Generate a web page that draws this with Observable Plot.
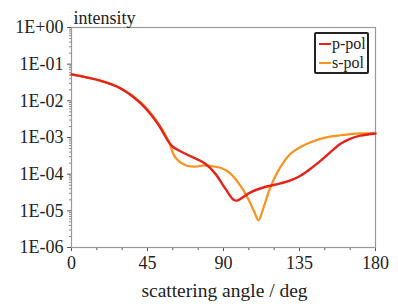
<!DOCTYPE html>
<html>
<head>
<meta charset="utf-8">
<script src="https://cdn.jsdelivr.net/npm/d3@7"></script>
<script src="https://cdn.jsdelivr.net/npm/@observablehq/plot@0.6"></script>
<style>
  body { margin: 0; background: #fff; }
  #wrap { position: relative; width: 398px; height: 308px; font-family: "Liberation Serif", "DejaVu Serif", serif; }
  #legend { position: absolute; left: 314px; top: 32px; width: 51px; height: 38px; border: 2px solid #222; border-radius: 2px; background: #fff; font-size: 16px; color: #222; }
  #legend .row { display: flex; align-items: center; height: 19px; padding-left: 3px; }
  #legend .sw { width: 12px; height: 2px; margin-right: 1px; }
</style>
</head>
<body>
<div id="wrap"></div>
<script>
const pAngle = [0, 17, 29, 41, 51, 57, 60, 67.5, 79, 85, 91, 96, 98, 106, 114, 123.7, 129.7, 135.6, 141.5, 147.4, 153.3, 159.3, 165, 171, 180];
const pValue = [0.0525, 0.0355, 0.0219, 0.0085, 0.0024, 8.3e-4, 5.6e-4, 3.6e-4, 1.95e-4, 1.05e-4, 4.1e-5, 2.0e-5, 1.9e-5, 3.2e-5, 4.4e-5, 5.6e-5, 6.8e-5, 9.1e-5, 1.4e-4, 2.3e-4, 4.0e-4, 6.8e-4, 9.2e-4, 1.12e-3, 1.29e-3];
const sAngle = [0, 17, 29, 41, 51, 57, 61.6, 67.5, 73, 79, 85, 89, 94, 102, 108, 110.7, 113.7, 117.8, 123.7, 129.7, 135.6, 141.5, 151.4, 159.3, 171, 180];
const sValue = [0.0525, 0.0355, 0.0222, 0.0091, 0.0026, 8.9e-4, 2.8e-4, 1.74e-4, 1.6e-4, 1.74e-4, 1.6e-4, 1.45e-4, 1.05e-4, 3.5e-5, 1.0e-5, 5.5e-6, 1.23e-5, 4.4e-5, 1.55e-4, 3.6e-4, 5.5e-4, 7.4e-4, 1.02e-3, 1.15e-3, 1.29e-3, 1.29e-3];
const xTicks = [0, 45, 90, 135, 180];
const xMinor = [15, 30, 60, 75, 105, 120, 150, 165];
const yTicks = [1e-6, 1e-5, 1e-4, 1e-3, 1e-2, 1e-1, 1];
const seriesNames = ["p-pol", "s-pol"];
const seriesColors = ["#e3231c", "#f7931e"];

const pData = pAngle.map((a, i) => ({angle: a, value: pValue[i]}));
const sData = sAngle.map((a, i) => ({angle: a, value: sValue[i]}));
const yMinor = [];
yTicks.slice(0, -1).forEach(d => { for (let k = 2; k <= 9; k++) yMinor.push(d * k); });
const fmt = d => { const e = Math.round(Math.log10(d)); return "1E" + (e >= 0 ? "+" : "-") + String(Math.abs(e)).padStart(2, "0"); };
const serif = "'Liberation Serif', 'DejaVu Serif', serif";

const chart = Plot.plot({
  width: 398,
  height: 308,
  marginLeft: 71,
  marginRight: 23,
  marginTop: 27,
  marginBottom: 61,
  style: {fontFamily: serif, fontSize: "18px", color: "#222", background: "#fff"},
  x: {domain: [0, 180]},
  y: {type: "log", domain: [1e-6, 1]},
  marks: [
    Plot.axisY({ticks: yMinor, tickSize: 2, text: null, label: null, stroke: "#888"}),
    Plot.axisY({ticks: yTicks, tickSize: 4, tickPadding: 4, tickFormat: fmt, label: null, stroke: "#555", fontSize: 18}),
    Plot.axisX({ticks: xMinor, tickSize: 3, text: null, label: null, stroke: "#555"}),
    Plot.axisX({ticks: xTicks, tickSize: 4, tickPadding: 5, label: null, stroke: "#555", fontSize: 18}),
    Plot.frame({stroke: "#999", strokeWidth: 1.2}),
    Plot.line(sData, {x: "angle", y: "value", stroke: seriesColors[1], strokeWidth: 2.2, curve: "catmull-rom"}),
    Plot.line(pData, {x: "angle", y: "value", stroke: seriesColors[0], strokeWidth: 2.4, curve: "catmull-rom"}),
    Plot.text(["intensity"], {frameAnchor: "top-left", textAnchor: "start", lineAnchor: "bottom", dx: 2, dy: -4, fontSize: 18, fill: "#222"}),
    Plot.text(["scattering angle / deg"], {frameAnchor: "bottom", lineAnchor: "bottom", dx: 1, dy: 49, fontSize: 19.5, fill: "#222"})
  ]
});
const wrap = document.getElementById("wrap");
wrap.appendChild(chart);
const legend = document.createElement("div");
legend.id = "legend";
seriesNames.forEach((n, i) => {
  const row = document.createElement("div");
  row.className = "row";
  const sw = document.createElement("span");
  sw.className = "sw";
  sw.style.background = seriesColors[i];
  const t = document.createElement("span");
  t.textContent = n;
  row.appendChild(sw); row.appendChild(t);
  legend.appendChild(row);
});
wrap.appendChild(legend);
</script>
</body>
</html>
